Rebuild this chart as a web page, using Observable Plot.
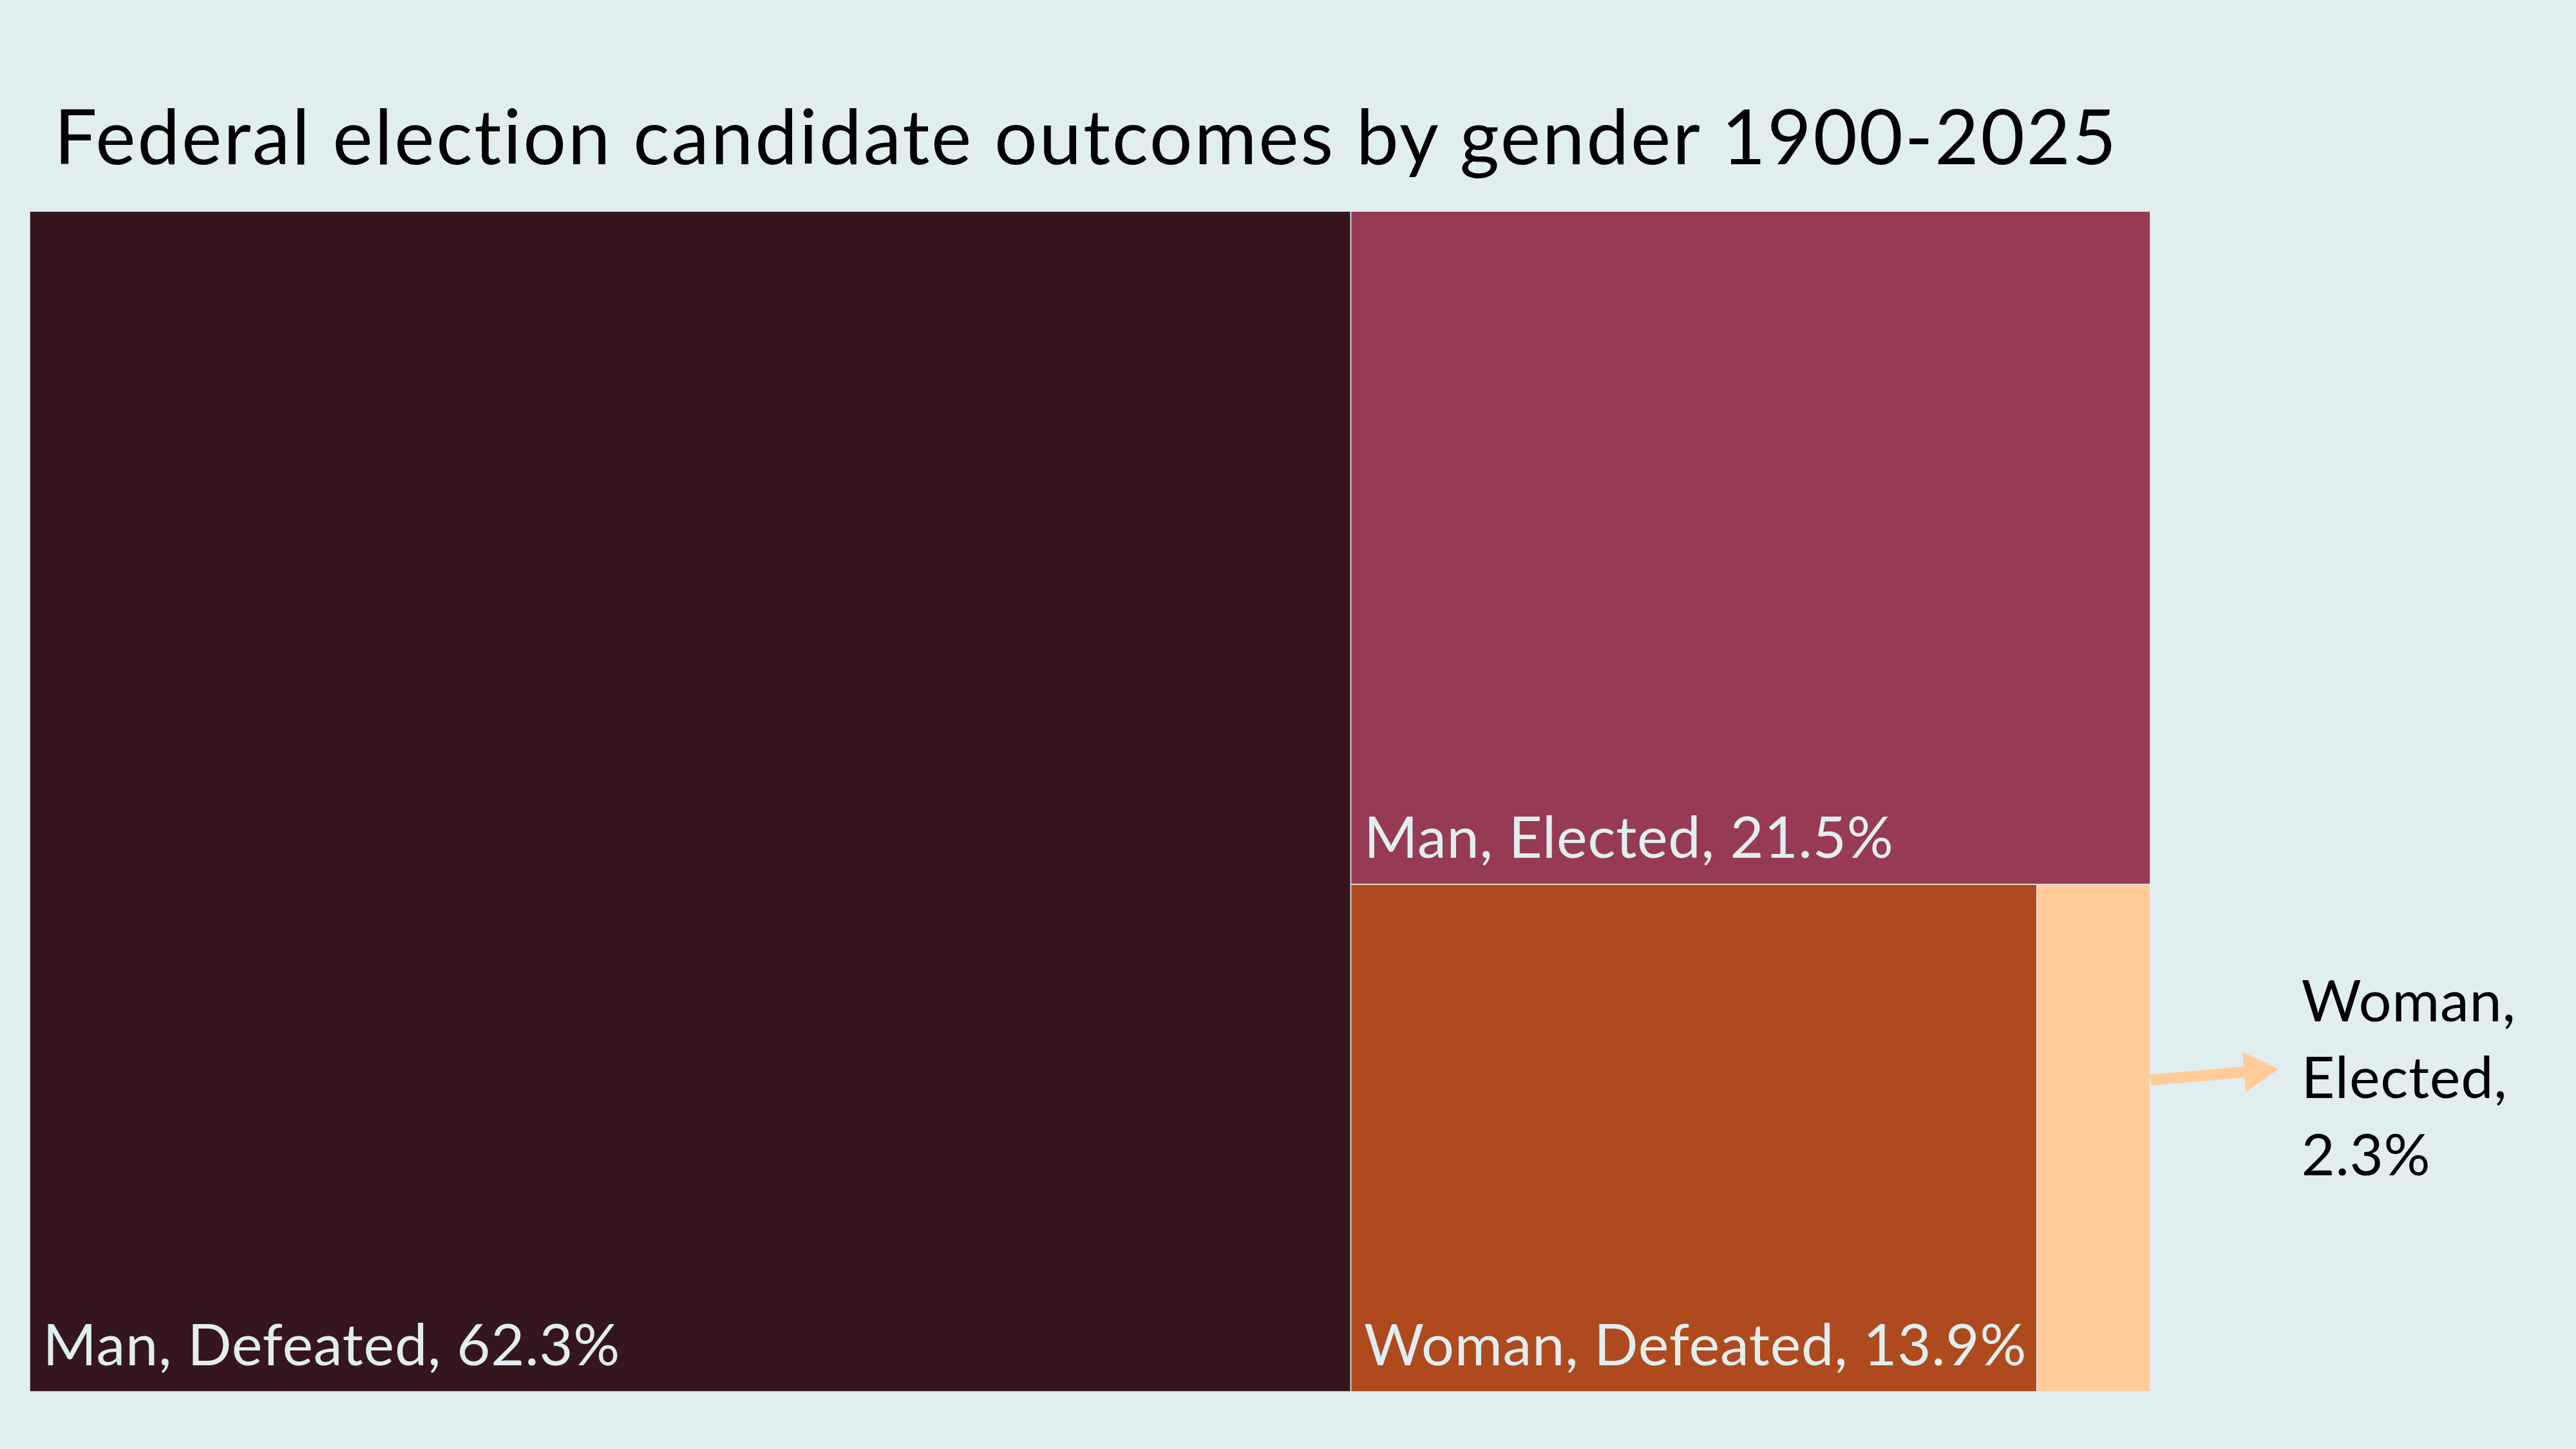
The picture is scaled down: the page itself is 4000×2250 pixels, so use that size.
<!DOCTYPE html>
<html>
<head>
<meta charset="utf-8">
<script src="https://cdn.jsdelivr.net/npm/d3@7"></script>
<script src="https://cdn.jsdelivr.net/npm/@observablehq/plot@0.6"></script>
<style>
  html, body { margin: 0; padding: 0; background: #E0EEEF; }
  body { width: 4000px; height: 2250px; position: relative; overflow: hidden; }
  #title { position: absolute; left: 84px; top: 151px; font-family: Lato, sans-serif; font-size: 118px; line-height: 1; color: #000; white-space: nowrap; font-weight: 400; letter-spacing: 2.7px; }
  #chart { position: absolute; left: 0; top: 300px; }
  #chart text { letter-spacing: 0.8px; }
</style>
</head>
<body>
<div id="title">Federal election candidate outcomes by gender 1900-2025</div>
<div id="chart"></div>
<script>
const categories = ["Man, Defeated", "Man, Elected", "Woman, Defeated", "Woman, Elected"];
const shares = [62.3, 21.5, 13.9, 2.3];
const colors = ["#35161F", "#973A53", "#AE4A1D", "#FFCC99"];

const W = 3293, H = 1833;
const root = d3.hierarchy({children: categories.map((c, i) => ({name: c, value: shares[i]}))})
  .sum(d => d.value || 0)
  .sort((a, b) => b.value - a.value);
d3.treemap().size([W, H]).tile(d3.treemapSquarify)(root);
const tiles = root.leaves().map(l => ({
  name: l.data.name,
  value: l.data.value,
  x0: l.x0, x1: l.x1, y0: l.y0, y1: l.y1,
  label: `${l.data.name}, ${l.data.value}%`
}));
const inside = tiles.filter(t => t.x1 - t.x0 > 400);
const outside = tiles.filter(t => t.x1 - t.x0 <= 400).map(t => {
  const sx = t.x1, sy = t.y0 + 0.385 * (t.y1 - t.y0);
  const tx = sx + 199, ty = sy - 17;
  const len = Math.hypot(tx - sx, ty - sy), ux = (tx - sx) / len, uy = (ty - sy) / len;
  return {
    ...t, sx, sy, tx, ty,
    bx: tx - 54 * ux, by: ty - 54 * uy,
    cx: tx - 36 * ux, cy: ty - 36 * uy,
    rot: 90 + Math.atan2(uy, ux) * 180 / Math.PI,
    text: t.name.replace(", ", ",\n") + `,\n${t.value}%`
  };
});

const plot = Plot.plot({
  width: 4000,
  height: 1950,
  marginLeft: 46,
  marginRight: 661,
  marginTop: 28,
  marginBottom: 89,
  style: {background: "transparent", overflow: "visible"},
  x: {domain: [0, W], axis: null},
  y: {domain: [0, H], axis: null, reverse: true},
  color: {domain: categories, range: colors},
  marks: [
    Plot.rect(tiles, {x1: "x0", x2: "x1", y1: "y0", y2: "y1", fill: "name", stroke: "#E8F1F2", strokeWidth: 1.5}),
    Plot.text(inside, {x: "x0", y: "y1", text: "label", textAnchor: "start", lineAnchor: "bottom", dx: 20, dy: -42, fill: "#E1EEF0", fontSize: 90, fontFamily: "Lato"}),
    Plot.link(outside, {x1: "sx", y1: "sy", x2: "bx", y2: "by", stroke: "#FFCC99", strokeWidth: 17}),
    Plot.dot(outside, {x: "cx", y: "cy", symbol: "triangle", r: 23.15, rotate: "rot", fill: "#FFCC99", stroke: "none"}),
    Plot.text(outside, {x: "tx", y: "ty", text: "text", textAnchor: "start", lineAnchor: "middle", lineHeight: 1.33, dx: 35, dy: 7, fill: "#000", fontSize: 90, fontFamily: "Lato"})
  ]
});
document.getElementById("chart").appendChild(plot);
</script>
</body>
</html>
